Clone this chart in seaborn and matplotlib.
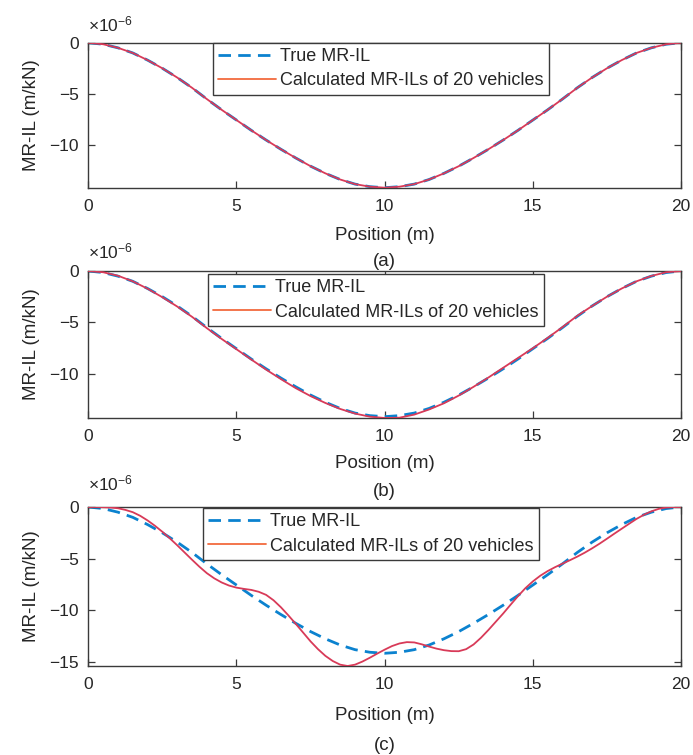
import matplotlib
matplotlib.use("Agg")
import matplotlib.pyplot as plt
from matplotlib.lines import Line2D
import numpy as np
import pandas as pd
import seaborn as sns

# ---------------- data (values in units of 1e-6 m/kN) ----------------
position = [0.0, 0.5, 1.0, 1.5, 2.0, 2.5, 3.0, 3.5, 4.0, 4.5, 5.0,
            5.5, 6.0, 6.5, 7.0, 7.5, 8.0, 8.5, 9.0, 9.5, 10.0,
            10.5, 11.0, 11.5, 12.0, 12.5, 13.0, 13.5, 14.0, 14.5, 15.0,
            15.5, 16.0, 16.5, 17.0, 17.5, 18.0, 18.5, 19.0, 19.5, 20.0]

true_il = [0.0, -0.15, -0.5, -1.0, -1.7, -2.5, -3.4, -4.4, -5.5, -6.55, -7.55,
           -8.55, -9.5, -10.4, -11.25, -12.05, -12.75, -13.35, -13.8, -14.05, -14.15,
           -14.05, -13.8, -13.35, -12.75, -12.05, -11.25, -10.4, -9.5, -8.55, -7.55,
           -6.55, -5.5, -4.4, -3.4, -2.5, -1.7, -1.0, -0.5, -0.15, 0.0]

calc_a = [0.0, -0.15, -0.5, -1.0, -1.7, -2.5, -3.4, -4.4, -5.5, -6.55, -7.55,
          -8.55, -9.5, -10.4, -11.25, -12.05, -12.75, -13.35, -13.8, -14.05, -14.15,
          -14.05, -13.8, -13.35, -12.75, -12.05, -11.25, -10.4, -9.5, -8.55, -7.55,
          -6.55, -5.5, -4.4, -3.4, -2.5, -1.7, -1.0, -0.5, -0.15, 0.0]

calc_b = [0.0, -0.12, -0.46, -1.0, -1.72, -2.55, -3.45, -4.45, -5.55, -6.6, -7.6,
          -8.6, -9.58, -10.5, -11.38, -12.15, -12.82, -13.4, -13.85, -14.15, -14.28,
          -14.25, -13.95, -13.45, -12.85, -12.1, -11.25, -10.35, -9.4, -8.45, -7.5,
          -6.5, -5.45, -4.35, -3.4, -2.5, -1.7, -1.0, -0.48, -0.12, 0.0]

position_fine = [0.0, 0.25, 0.5, 0.75, 1.0, 1.25, 1.5, 1.75, 2.0, 2.25, 2.5,
                 2.75, 3.0, 3.25, 3.5, 3.75, 4.0, 4.25, 4.5, 4.75, 5.0,
                 5.25, 5.5, 5.75, 6.0, 6.25, 6.5, 6.75, 7.0, 7.25, 7.5,
                 7.75, 8.0, 8.25, 8.5, 8.75, 9.0, 9.25, 9.5, 9.75, 10.0,
                 10.25, 10.5, 10.75, 11.0, 11.25, 11.5, 11.75, 12.0, 12.25, 12.5,
                 12.75, 13.0, 13.25, 13.5, 13.75, 14.0, 14.25, 14.5, 14.75, 15.0,
                 15.25, 15.5, 15.75, 16.0, 16.25, 16.5, 16.75, 17.0, 17.25, 17.5,
                 17.75, 18.0, 18.25, 18.5, 18.75, 19.0, 19.25, 19.5, 19.75, 20.0]

calc_c = [0.0, 0.0, -0.02, -0.05, -0.12, -0.28, -0.5, -0.85, -1.3, -1.82, -2.4,
          -3.03, -3.7, -4.4, -5.1, -5.78, -6.4, -6.9, -7.3, -7.6, -7.8,
          -7.92, -8.02, -8.2, -8.5, -9.02, -9.7, -10.48, -11.3, -12.15, -13.0,
          -13.75, -14.4, -14.9, -15.25, -15.38, -15.25, -14.95, -14.58, -14.18, -13.8,
          -13.45, -13.2, -13.07, -13.1, -13.28, -13.5, -13.7, -13.85, -13.94, -13.95,
          -13.75, -13.3, -12.65, -11.9, -11.1, -10.3, -9.45, -8.62, -7.85, -7.2,
          -6.65, -6.2, -5.82, -5.48, -5.15, -4.8, -4.42, -4.0, -3.55, -3.07,
          -2.58, -2.1, -1.62, -1.15, -0.75, -0.42, -0.18, -0.05, -0.01, 0.0]

x_ticks = [0, 5, 10, 15, 20]
panel_labels = ["(a)", "(b)", "(c)"]
legend_labels = ["True MR-IL", "Calculated MR-ILs of 20 vehicles"]
x_label = "Position (m)"
y_label = "MR-IL (m/kN)"
scale_label = "×10$^{-6}$"

# ---------------- style ----------------
sns.set_theme(style="white")
plt.rcParams["font.family"] = ["Liberation Sans", "DejaVu Sans"]
plt.rcParams["mathtext.fontset"] = "custom"
plt.rcParams["mathtext.rm"] = "Liberation Sans"
plt.rcParams["mathtext.it"] = "Liberation Sans"
plt.rcParams["axes.unicode_minus"] = True

TRUE_COLOR = "#0b82cf"
CALC_COLOR = "#d83a58"
CALC_LEG_COLOR = "#f26a3e"
AX_COLOR = "#3a3a3a"
TXT_COLOR = "#262626"
DASH = (0, (4.5, 2.6))

W, H = 693, 755
fig = plt.figure(figsize=(W / 100, H / 100), dpi=100)
fig.patch.set_facecolor("white")

def fx(px):
    return px / W

def fy(py):
    return 1 - py / H

# axes boxes in pixel coords: (left, top, right, bottom)
boxes = [(88.3, 42.7, 681.0, 187.7),
         (88.3, 271.0, 681.0, 418.0),
         (88.3, 507.0, 681.0, 666.0)]
legend_boxes = [(213, 42.7), (208, 274), (203, 508)]   # upper-left corners
xlabel_y = [235, 464, 715]
caption_y = [262, 492, 745]
scale_y = [24, 251, 483]

panels = [(position, true_il, position, calc_a),
          (position, true_il, position, calc_b),
          (position, true_il, position_fine, calc_c)]

for i, (xt, yt, xc, yc) in enumerate(panels):
    l, t, r, b = boxes[i]
    ax = fig.add_axes([fx(l), fy(b), (r - l) / W, (b - t) / H])
    df_true = pd.DataFrame({"pos": xt, "val": yt})
    df_calc = pd.DataFrame({"pos": xc, "val": yc})
    sns.lineplot(data=df_true, x="pos", y="val", ax=ax, color=TRUE_COLOR,
                 linewidth=2.0, linestyle=DASH, zorder=2)
    sns.lineplot(data=df_calc, x="pos", y="val", ax=ax, color=CALC_COLOR,
                 linewidth=1.3, zorder=3)
    ymin = min(min(yt), min(yc))
    ax.set_xlim(0, 20)
    ax.set_ylim(ymin, 0)
    ax.set_xticks(x_ticks)
    yt_vals = [v for v in [0, -5, -10, -15] if v >= ymin]
    ax.set_yticks(yt_vals)
    ax.set_yticklabels(["0" if v == 0 else "\u2212%d" % abs(v) for v in yt_vals])
    ax.set_xlabel("")
    ax.set_ylabel(y_label, fontsize=13.5, color=TXT_COLOR)
    ax.yaxis.set_label_coords((40 - l) / (r - l), 0.5)
    ax.tick_params(axis="both", direction="in", length=5, width=0.9,
                   colors=AX_COLOR, labelcolor=TXT_COLOR, labelsize=12.5,
                   top=True, right=True, bottom=True, left=True)
    ax.tick_params(axis="x", pad=8)
    ax.tick_params(axis="y", pad=7)
    for sp in ax.spines.values():
        sp.set_visible(True)
        sp.set_color(AX_COLOR)
        sp.set_linewidth(1.0)
    ax.grid(False)

    handles = [Line2D([], [], color=TRUE_COLOR, linewidth=2.0, linestyle=DASH),
               Line2D([], [], color=CALC_LEG_COLOR, linewidth=1.3)]
    lx, ly = legend_boxes[i]
    leg = ax.legend(handles, legend_labels, loc="upper left",
                    bbox_to_anchor=((lx - l) / (r - l), 1 - (ly - t) / (b - t)),
                    frameon=True, fancybox=False, framealpha=1, edgecolor=AX_COLOR,
                    fontsize=13, handlelength=3.2, handletextpad=0.2,
                    borderpad=0.3, labelspacing=0.4, borderaxespad=0.0)
    leg.get_frame().set_linewidth(1.0)
    for txt in leg.get_texts():
        txt.set_color(TXT_COLOR)

    cx = (l + r) / 2
    fig.text(fx(cx), fy(xlabel_y[i]), x_label, ha="center", va="center",
             fontsize=13.5, color=TXT_COLOR)
    fig.text(fx(cx), fy(caption_y[i]), panel_labels[i], ha="center", va="center",
             fontsize=13.5, color=TXT_COLOR)
    fig.text(fx(l), fy(scale_y[i]), scale_label, ha="left", va="center",
             fontsize=12.5, color=TXT_COLOR)

fig.savefig("out.png", dpi=100, facecolor="white")
